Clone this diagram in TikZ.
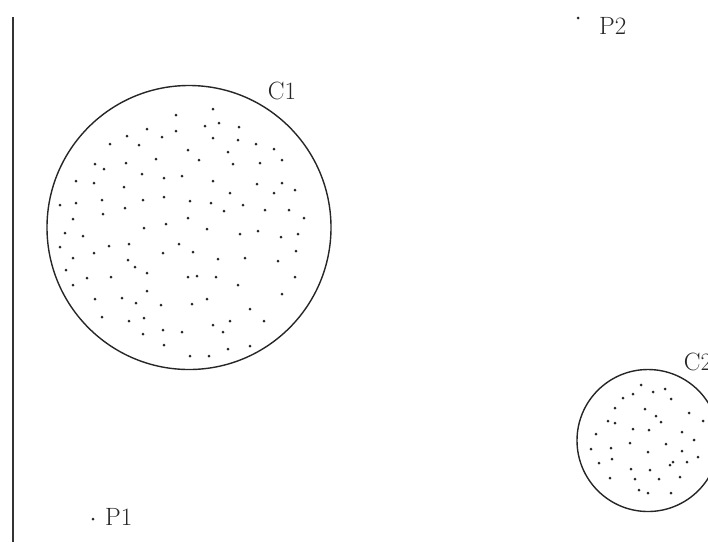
\documentclass[tikz,border=0pt]{standalone}
\usepackage{fontspec}
\setmainfont{Latin Modern Roman}
\begin{document}
\begin{tikzpicture}[x=1pt,y=-1pt,
    ring/.style={circle,draw=black!85,line width=1.4pt,inner sep=0pt},
    lbl/.style={inner sep=0pt,text=black!85,font=\fontsize{25}{30}\selectfont},
    pt/.style={circle,fill=black!85,inner sep=0pt,minimum size=3pt}]
            \clip (0,0) rectangle (708,542);
            \draw[black!80,line width=1.4pt] (13,17) -- (13,542);
            % clusters
            \node[ring,minimum size=284pt] (C1) at (189,227.5) {};
            \node[ring,minimum size=142pt] (C2) at (648,440.5) {};
            \node[lbl] (C1lbl) at (282,91) {C1};
            \node[lbl] (C2lbl) at (698,362) {C2};
            \foreach \x/\y in {213/109,176/115,205/126,219/123,239/127,147/129,176/131,127/136,162/137,213/138,
                238/140,110/144,139/145,256/144,274/149,188/150,228/152,156/159,199/160,95/164,104/169,126/163,
                233/164,260/163,282/160,142/174,164/178,182/176,76/181,94/183,213/181,257/184,282/183,124/187,
                295/190,274/193,230/193,60/205,76/203,102/200,143/200,164/197,190/201,211/203,243/205,224/211,
                265/210,289/210,73/219,103/214,125/208,188/218,304/218,144/228,166/224,207/229,65/233,83/236,
                240/234,258/231,281/237,298/234,60/247,109/246,129/244,179/244,163/253,193/252,73/258,94/253,
                128/260,135/267,218/259,245/258,278/261,296/251,66/270,87/278,111/277,147/273,188/277,197/276,
                216/277,295/277,73/285,238/285,147/291,282/294,95/299,122/298,136/303,161/305,192/304,207/299,
                250/309,102/317,129/321,144/318,213/325,230/321,264/321,143/334,163/330,182/332,223/332,164/345,
                228/349,250/346,190/356,209/356}
                \node[pt] at (\x,\y) {};
            \foreach \x/\y in {641/385,633/394,623/398,653/392,665/389,671/399,615/408,645/409,656/416,661/422,
                689/413,703/421,608/421,615/423,633/429,649/430,682/432,596/434,694/440,591/449,611/448,630/443,
                666/444,682/451,648/452,698/457,599/463,612/459,687/462,673/462,670/465,631/469,650/470,610/478,
                635/479,659/479,680/477,639/490,648/493,671/493}
                \node[pt] at (\x,\y) {};
            % single points
            \node[pt] (P1) at (93,519) {};
            \node[pt] (P2) at (578,18) {};
            \node[lbl,anchor=west] (P1lbl) at (105,517) {P1};
            \node[lbl,anchor=west] (P2lbl) at (599,26) {P2};
            \end{tikzpicture}
\end{document}
